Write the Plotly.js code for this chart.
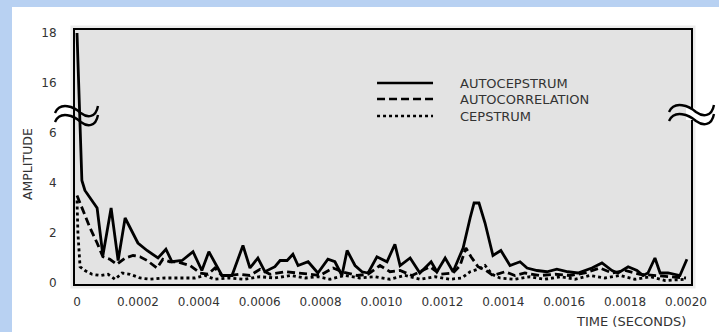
<!DOCTYPE html>
<html>
<head>
<meta charset="utf-8">
<script src="https://cdn.plot.ly/plotly-3.0.1.min.js"></script>
<style>
  html, body { margin: 0; padding: 0; }
  body { width: 719px; height: 332px; background: #b8d1f2; position: relative; overflow: hidden; }
  #panel { position: absolute; left: 12px; top: 7px; width: 707px; height: 325px; background: #ffffff; }
  #chart { position: absolute; left: 0; top: 0; width: 719px; height: 332px; }
</style>
</head>
<body>
<div id="panel"></div>
<div id="chart"></div>
<script>
// ---- data (time in microseconds, amplitude) ----
const seriesNames = ["AUTOCEPSTRUM", "AUTOCORRELATION", "CEPSTRUM"];

const autocepstrumT = [0,16,26,43,66,85,112,135,158,200,230,266,292,312,345,381,410,433,476,509,545,568,594,617,650,667,690,709,726,759,791,824,847,870,887,913,936,956,985,1018,1044,1061,1094,1126,1163,1182,1209,1235,1268,1291,1304,1320,1340,1366,1392,1422,1455,1478,1511,1543,1576,1612,1645,1691,1724,1757,1777,1810,1839,1859,1875,1898,1915,1941,1980,2003];
const autocepstrumV = [18,4.1,3.7,3.4,3.0,1.1,3.0,0.9,2.6,1.6,1.3,1.0,1.35,0.85,0.9,1.25,0.5,1.25,0.3,0.3,1.5,0.6,1.0,0.45,0.65,0.9,0.9,1.15,0.7,0.85,0.4,0.95,0.85,0.3,1.3,0.7,0.45,0.4,1.05,0.85,1.55,0.7,1.0,0.4,0.85,0.45,1.0,0.45,1.4,2.6,3.2,3.2,2.4,1.1,1.3,0.7,0.85,0.6,0.5,0.45,0.55,0.45,0.4,0.6,0.8,0.5,0.4,0.65,0.5,0.3,0.4,1.0,0.4,0.4,0.3,0.95];

const autocorrelationT = [0,16,43,66,85,108,131,158,184,207,230,263,282,305,328,371,404,430,453,476,502,535,568,601,634,683,732,765,798,841,870,920,956,995,1028,1061,1100,1136,1159,1192,1235,1258,1277,1294,1317,1343,1366,1406,1438,1471,1521,1570,1619,1668,1717,1757,1800,1849,1898,1947,2000];
const autocorrelationV = [3.5,3.0,2.2,1.6,1.05,0.95,0.75,1.0,1.1,1.05,0.9,0.6,0.95,0.85,0.85,0.7,0.4,0.35,0.6,0.3,0.3,0.35,0.3,0.55,0.35,0.45,0.4,0.35,0.3,0.6,0.45,0.3,0.35,0.7,0.45,0.5,0.3,0.5,0.65,0.35,0.4,0.7,1.4,1.05,0.65,0.5,0.3,0.45,0.3,0.4,0.3,0.35,0.3,0.4,0.6,0.4,0.5,0.35,0.3,0.25,0.2];

const cepstrumT = [0,3,10,26,49,76,102,125,148,174,207,240,289,338,388,420,453,502,552,601,650,700,749,791,831,880,929,979,1028,1077,1126,1176,1225,1264,1291,1317,1340,1363,1389,1438,1488,1537,1586,1635,1685,1734,1783,1832,1882,1931,2000];
const cepstrumV = [3.3,2.0,0.65,0.5,0.35,0.3,0.35,0.15,0.4,0.35,0.2,0.15,0.2,0.2,0.2,0.3,0.15,0.2,0.15,0.25,0.2,0.3,0.2,0.25,0.15,0.3,0.2,0.25,0.15,0.3,0.15,0.25,0.15,0.2,0.45,0.55,0.7,0.35,0.2,0.15,0.25,0.15,0.25,0.15,0.3,0.2,0.3,0.15,0.25,0.1,0.15];

const xTickVals = [0,0.0002,0.0004,0.0006,0.0008,0.0010,0.0012,0.0014,0.0016,0.0018,0.0020];
const xTickText = ["0","0.0002","0.0004","0.0006","0.0008","0.0010","0.0012","0.0014","0.0016","0.0018","0.0020"];
const yTickReal = [0,2,4,6,16,18];
const yTickText = ["0","2","4","6","16","18"];

// ---- broken y-axis: values above the break are shifted down by 8 ----
const BREAK_SHIFT = 8;
const brk = v => (v > 7 ? v - BREAK_SHIFT : v);
const sec = t => t * 1e-6;

const FONT = "DejaVu Sans, Verdana, sans-serif";
const TXT = "#333";

const lineStyles = [
  {color: "#000", width: 2.8, dash: "solid"},
  {color: "#000", width: 2.8, dash: "8px,4px"},
  {color: "#000", width: 2.8, dash: "3px,3px"}
];

const traces = [
  {x: autocepstrumT.map(sec), y: autocepstrumV.map(brk), name: seriesNames[0], mode: "lines", line: lineStyles[0]},
  {x: autocorrelationT.map(sec), y: autocorrelationV.map(brk), name: seriesNames[1], mode: "lines", line: lineStyles[1]},
  {x: cepstrumT.map(sec), y: cepstrumV.map(brk), name: seriesNames[2], mode: "lines", line: lineStyles[2]}
];

// ---- geometry helpers (page pixels -> paper fractions) ----
const M = {l: 75, r: 28, t: 30, b: 48};
const PW = 719 - M.l - M.r, PH = 332 - M.t - M.b;
const px = x => ((x - M.l) / PW).toFixed(4);
const py = y => ((332 - M.b - y) / PH).toFixed(4);
function tilde(x0, y0, w, dy) {
  const p = (x, y) => px(x) + "," + py(y);
  return "M" + p(x0, y0) +
    " C" + p(x0 + w*0.12, y0 - 12*dy) + " " + p(x0 + w*0.45, y0 - 6*dy) + " " + p(x0 + w*0.6, y0) +
    " C" + p(x0 + w*0.75, y0 + 5*dy) + " " + p(x0 + w*0.95, y0 + 5*dy) + " " + p(x0 + w, y0 - 7*dy);
}

const shapes = [];
shapes.push({type: "rect", xref: "paper", yref: "paper", x0: px(72), x1: px(694), y0: py(287), y1: py(27),
  line: {color: "rgba(0,0,0,0.08)", width: 3}, layer: "below"});
shapes.push({type: "rect", xref: "paper", yref: "paper", x0: px(686), x1: px(696), y0: py(120), y1: py(108),
  line: {width: 0}, fillcolor: "#ffffff"});
[[55, 113], [55, 122]].forEach(([x, y]) => shapes.push({type: "path", xref: "paper", yref: "paper",
  path: tilde(x, y, 43, 1), line: {color: "#000", width: 2.4}}));
[[669, 112], [669, 121]].forEach(([x, y]) => shapes.push({type: "path", xref: "paper", yref: "paper",
  path: tilde(x, y, 45, 1), line: {color: "#000", width: 2.4}}));

// legend drawn in place
const legendY = [83, 99, 116];
const annotations = [];
legendY.forEach((y, i) => {
  shapes.push({type: "line", xref: "paper", yref: "paper", x0: px(377), x1: px(433), y0: py(y), y1: py(y),
    line: {color: "#000", width: 2.4, dash: lineStyles[i].dash}});
  annotations.push({xref: "paper", yref: "paper", x: px(458), y: py(y), xanchor: "left", yanchor: "middle",
    text: seriesNames[i], showarrow: false, font: {family: FONT, size: 13, color: TXT}});
});
annotations.push({xref: "paper", yref: "paper", x: px(27), y: py(164), text: "AMPLITUDE", textangle: -90,
  showarrow: false, xanchor: "center", yanchor: "middle", font: {family: FONT, size: 12.5, color: TXT}});
annotations.push({xref: "paper", yref: "paper", x: px(688), y: py(322), text: "TIME (SECONDS)",
  showarrow: false, xanchor: "right", yanchor: "middle", font: {family: FONT, size: 13, color: TXT}});

const layout = {
  width: 719, height: 332,
  margin: M,
  paper_bgcolor: "rgba(0,0,0,0)",
  plot_bgcolor: "#e3e3e3",
  showlegend: false,
  font: {family: FONT, size: 12, color: TXT},
  xaxis: {
    range: [-0.0000066, 0.0020164], tickvals: xTickVals, ticktext: xTickText,
    showgrid: false, zeroline: false, ticks: "", showline: true, mirror: true,
    linecolor: "#000", linewidth: 2, ticklabelstandoff: 6,
    tickfont: {family: FONT, size: 12, color: TXT}
  },
  yaxis: {
    range: [-0.04, 10.12], tickvals: yTickReal.map(brk), ticktext: yTickText,
    showgrid: false, zeroline: false, ticks: "", showline: true, mirror: true,
    linecolor: "#000", linewidth: 2, ticklabelstandoff: 14,
    tickfont: {family: FONT, size: 12, color: TXT}
  },
  shapes: shapes,
  annotations: annotations
};

Plotly.newPlot("chart", traces, layout, {displayModeBar: false, staticPlot: true});
</script>
</body>
</html>
